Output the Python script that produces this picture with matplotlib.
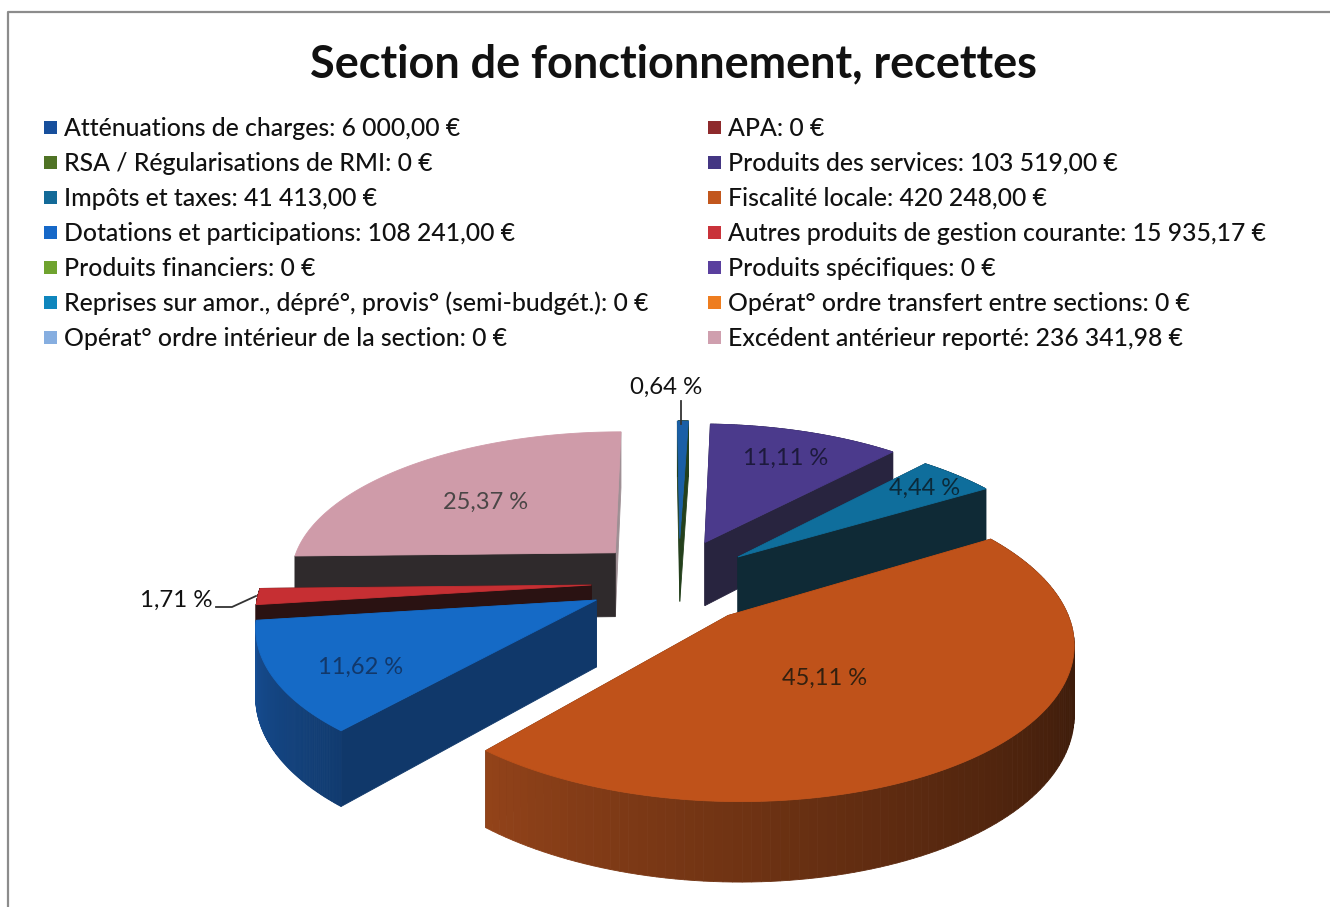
import numpy as np
import matplotlib
matplotlib.use('Agg')
import matplotlib.pyplot as plt
from matplotlib.patches import Polygon, Rectangle

plt.rcParams['font.family'] = ['Lato', 'DejaVu Sans']

title = 'Section de fonctionnement, recettes'

# legend, in reading order (left, right, left, ...)
categories = ['Atténuations de charges', 'APA', 'RSA / Régularisations de RMI',
              'Produits des services', 'Impôts et taxes', 'Fiscalité locale',
              'Dotations et participations', 'Autres produits de gestion courante',
              'Produits financiers', 'Produits spécifiques',
              'Reprises sur amor., dépré°, provis° (semi-budgét.)',
              'Opérat° ordre transfert entre sections',
              'Opérat° ordre intérieur de la section', 'Excédent antérieur reporté']
amounts = [6000.00, 0, 0, 103519.00, 41413.00, 420248.00, 108241.00, 15935.17,
           0, 0, 0, 0, 0, 236341.98]
amount_labels = ['6 000,00 €', '0 €', '0 €', '103 519,00 €', '41 413,00 €', '420 248,00 €',
                 '108 241,00 €', '15 935,17 €', '0 €', '0 €', '0 €', '0 €', '0 €', '236 341,98 €']
swatches = ['#174f9c', '#8e2a2c', '#4f7325', '#443683', '#136a98', '#c2571d',
            '#1668c8', '#c9323a', '#6fa32f', '#5a3f9e', '#0f86bd', '#ee7d1f',
            '#86aee0', '#cf9fae']

face_colors = ['#1a5fa6', None, None, '#4b3a8c', '#0f6e9c', '#bf521a',
               '#156ac6', '#c62f33', None, None, None, None, None, '#cf9ba9']
wall_colors = ['#24401c', None, None, '#28243f', '#0f2a36', '#5c2a10',
               '#10386a', '#2a1212', None, None, None, None, None, '#2f2a2c']
# explosion of each slice on the pie's plane
explode_x = [0.063, 0, 0, 0.142, 0.243, 0.20, -0.19, -0.208, 0, 0, 0, 0, 0, -0.14]
explode_y = [0.329, 0, 0, 0.30, 0.195, -0.20, -0.10, 0.0, 0, 0, 0, 0, 0, 0.225]

# inside labels: anchor on the picture
label_xy = {3: (786, 458), 4: (925, 488), 5: (825, 678), 6: (361, 667), 13: (486, 502)}
label_colors = {3: '#1d1a3c', 4: '#0b2a3a', 5: '#33200f', 6: '#12386a', 13: '#4a4646'}

CX, CY, A, B, P, H = 660, 585, 330, 148, 0.15, 66


def project(x, y):
    d = 1 + P * y
    return CX + A * x / d, CY - B * y / d, H / d


fig = plt.figure(figsize=(13.3, 9.07), dpi=100)
ax = fig.add_axes([0, 0, 1, 1])
ax.set_xlim(0, 1330)
ax.set_ylim(907, 0)
ax.axis('off')

# scan frame
ax.plot([8, 8, 1330], [907, 12, 12], color='#8c8c8c', lw=1.6)

ax.text(673, 64, title, ha='center', va='center', fontsize=32.4, fontweight='bold', color='#111111')

for i, (cat, lab) in enumerate(zip(categories, amount_labels)):
    y = 128.5 + 35 * (i // 2)
    x = 64 if i % 2 == 0 else 728
    ax.add_patch(Rectangle((x - 20, y - 7.5), 13, 13, color=swatches[i], lw=0))
    ax.text(x, y, f'{cat}: {lab}', va='center', ha='left', fontsize=17.8, fontweight=500, color='#111111')

total = sum(amounts)
fractions = np.array(amounts) / total
starts = np.concatenate([[0], np.cumsum(fractions)[:-1]]) * 2 * np.pi
ends = np.cumsum(fractions) * 2 * np.pi


def slice_outline(i):
    t = np.linspace(starts[i], ends[i], 120)
    xs = np.concatenate([[explode_x[i]], explode_x[i] + np.sin(t), [explode_x[i]]])
    ys = np.concatenate([[explode_y[i]], explode_y[i] + np.cos(t), [explode_y[i]]])
    return project(xs, ys)


def draw_slice(i, z):
    sx, sy, h = slice_outline(i)
    base = np.array(matplotlib.colors.to_rgb(wall_colors[i]))
    n = len(sx) - 1
    # the two straight walls first, the rim over them
    for k in [n - 1, 0] + list(range(1, n - 1)):
        # pink slice: rim faces away, nothing of it shows
        if i == 13 and 0 < k < n - 1:
            continue
        quad = [(sx[k], sy[k]), (sx[k + 1], sy[k + 1]),
                (sx[k + 1], sy[k + 1] + h[k + 1]), (sx[k], sy[k] + h[k])]
        shade = 1.0
        if 0 < k < n - 1:
            t = k / (n - 1)
            if i == 5:
                shade = 0.5 + 1.1 * t ** 1.5
            if i == 6:
                shade = 1.05 + 0.35 * t
        color = np.clip(base * shade, 0, 1)
        # its right wall only shows as a thin grey edge
        if i == 13 and k == n - 1:
            color = np.array([0.62, 0.56, 0.58])
        ax.add_patch(Polygon(quad, closed=True, facecolor=color, edgecolor=color, lw=0.6, zorder=z))
    ax.add_patch(Polygon(np.column_stack([sx, sy]), closed=True, facecolor=face_colors[i],
                         edgecolor=face_colors[i], lw=0.6, zorder=z))


# back to front
for z, i in enumerate([0, 13, 3, 4, 7, 6, 5]):
    draw_slice(i, z + 2)

for i, (x, y) in label_xy.items():
    ax.text(x, y, f'{fractions[i] * 100:.2f} %'.replace('.', ','), ha='center', va='center',
            fontsize=17, color=label_colors[i], zorder=30)

# outside labels with leader lines
ax.text(666, 387, f'{fractions[0] * 100:.2f} %'.replace('.', ','), ha='center', va='center',
        fontsize=17.3, color='#111111', zorder=30)
ax.plot([681, 681], [401, 424], color='#333333', lw=1.3, zorder=30)
ax.text(213, 600, f'{fractions[7] * 100:.2f} %'.replace('.', ','), ha='right', va='center',
        fontsize=17.3, color='#111111', zorder=30)
ax.plot([216, 232, 256], [607, 607, 596], color='#333333', lw=1.3, zorder=30)

fig.savefig('out.png', dpi=100)
